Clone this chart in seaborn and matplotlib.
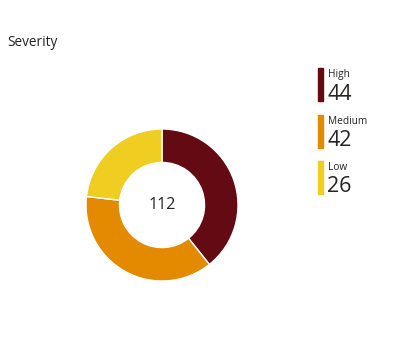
import seaborn as sns
import matplotlib.pyplot as plt
from matplotlib.patches import Rectangle

# Данные
categories = ['High', 'Medium', 'Low']
counts = [44, 42, 26]
colors = ['#640A12', '#E38A00', '#F0CD21']
title = 'Severity'

sns.set_style("white")
plt.rcParams['font.family'] = ['Open Sans', 'DejaVu Sans']

fig = plt.figure(figsize=(4, 3.53), dpi=100)

# Кольцевая диаграмма
ax = fig.add_axes([(162 - 76) / 400, (353 - 205 - 76) / 353, 152 / 400, 152 / 353])
ax.pie(counts, colors=colors, startangle=90, counterclock=False, radius=1,
       wedgeprops=dict(width=0.44, edgecolor='white', linewidth=1))
ax.set_xlim(-1, 1)
ax.set_ylim(-1, 1)
ax.set_aspect('equal')
ax.axis('off')
ax.text(0, 0, str(sum(counts)), ha='center', va='center', fontsize=11.5, color='#252423')

# Заголовок
fig.text(7 / 400, 1 - 42 / 353, title, ha='left', va='center', fontsize=9.8, color='#252423')

# Легенда с числами
top = 68
for i, (cat, n, c) in enumerate(zip(categories, counts, colors)):
    y0 = top + i * 46.5
    fig.patches.append(Rectangle((318 / 400, 1 - (y0 + 33) / 353), 5 / 400, 33 / 353,
                                 transform=fig.transFigure, color=c, figure=fig))
    fig.text(328 / 400, 1 - (y0 + 7) / 353, cat, ha='left', va='center', fontsize=7.3, color='#252423')
    fig.text(327 / 400, 1 - (y0 + 26) / 353, str(n), ha='left', va='center', fontsize=15.5, color='#252423')

fig.savefig('out.png', dpi=100)
